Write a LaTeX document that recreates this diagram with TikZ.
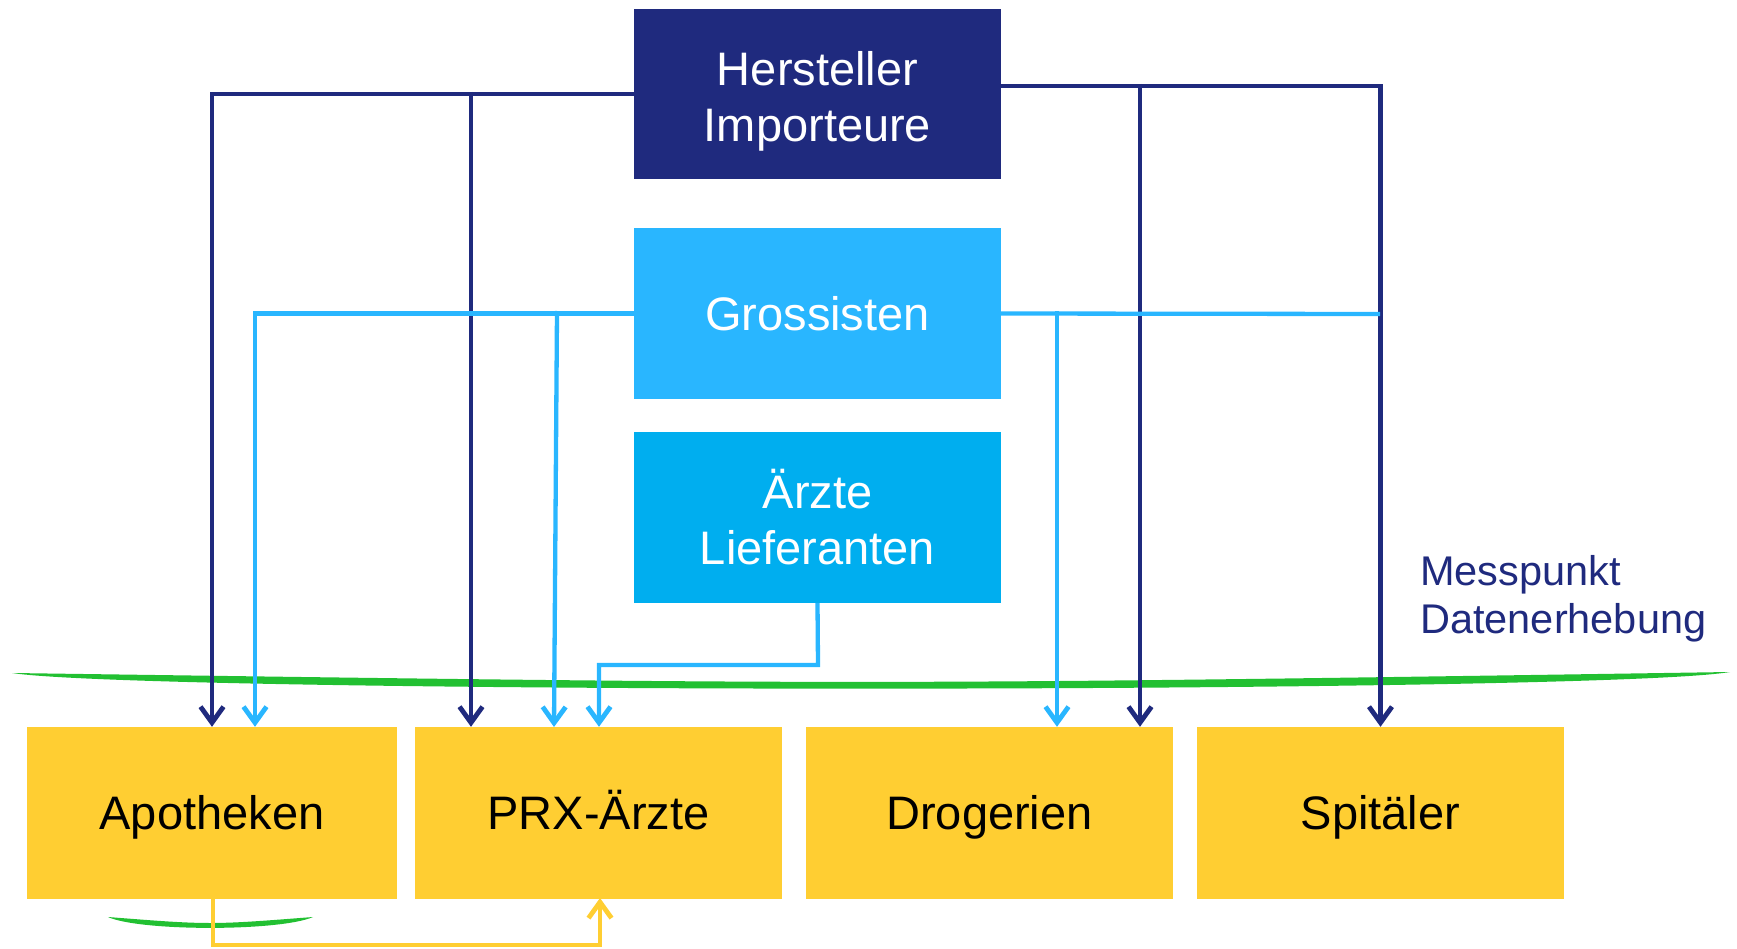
\documentclass[tikz,border=0pt]{standalone}
\usepackage{fontspec}
\setmainfont{Liberation Sans}
\usetikzlibrary{arrows.meta,calc}
\definecolor{navy}{HTML}{1F2A7E}
\definecolor{grosblue}{HTML}{29B6FF}
\definecolor{aerzteblue}{HTML}{00AEEF}
\definecolor{lightline}{HTML}{29B6FF}
\definecolor{boxyellow}{HTML}{FFCE32}
\definecolor{mgreen}{HTML}{22C032}
\begin{document}
\begin{tikzpicture}[x=1pt,y=-1pt,
  topbox/.style={minimum width=367pt, minimum height=171pt, inner sep=0pt, text=white, align=center, font=\fontsize{47}{56}\selectfont},
  ybox/.style={fill=boxyellow, minimum height=172pt, inner sep=0pt, text=black, text height=36pt, text depth=4pt, font=\fontsize{47}{56}\selectfont},
  tip/.style={-{Straight Barb[length=16pt,width=23pt,line width=4.8pt]}},
  dk/.style={draw=navy, line width=4.3pt},
  lt/.style={draw=lightline, line width=4.3pt},
  yl/.style={draw=boxyellow, line width=3.5pt},
  lbl/.style={text=navy, inner sep=0pt, anchor=base west, font=\fontsize{41.5}{48}\selectfont}
]
\useasboundingbox (0,0) rectangle (1737,949);

% top boxes
\node[topbox, fill=navy, minimum height=170pt] (hers) at (817.5,94) {};
\node[topbox] (herstext) at (817.5,101) {Hersteller\\Importeure};
\node[topbox, fill=grosblue] (gros) at (817.5,313.5) {Grossisten};
\node[topbox, fill=aerzteblue] (aerzte) at (817.5,517.5) {Ärzte\\Lieferanten};

% bottom boxes
\node[ybox, minimum width=370pt] (apo) at (212,813) {Apotheken};
\node[ybox, minimum width=367pt] (prx) at (598.5,813) {PRX-Ärzte};
\node[ybox, minimum width=367pt] (drog) at (989.5,813) {Drogerien};
\node[ybox, minimum width=367pt] (spit) at (1380.5,813) {Spitäler};

% green measuring line
\fill[mgreen] (12,673) .. controls (870,685) .. (1730,672)
  .. controls (1600,694) and (150,694) .. (12,673) -- cycle;
\fill[mgreen] (108,917) .. controls (210,925) .. (313,917)
  .. controls (280,931.5) and (140,931.5) .. (108,917) -- cycle;

% label
\node[lbl] (mess1) at (1420,585) {Messpunkt};
\node[lbl] (mess2) at (1420,633) {Datenerhebung};

% coordinates for junctions
\coordinate (hl) at (hers.west);
\coordinate (hr) at ($(hers.east)+(0,-8)$);
\coordinate (jprx) at (471,92);
\coordinate (jdrog) at (1140,84);
\coordinate (gl) at (gros.west);
\coordinate (gr) at (gros.east);
\coordinate (gend) at (1380,314);
\coordinate (jgprx) at (557,311);
\coordinate (jgdrog) at (1057,311);
\coordinate (ga) at (255,314);
\coordinate (ae1) at (818,665);
\coordinate (ae2) at (599,665);
\coordinate (yb1) at (213,945);
\coordinate (yb2) at (600,945);

% Hersteller connectors
\draw[dk, tip] (hl) -| (apo.north);
\draw[dk, tip] (jprx) -- (jprx |- prx.north);
\draw[dk, tip] (hr) -| (spit.north);
\draw[dk, tip] (jdrog) -- (jdrog |- drog.north);

% Grossisten connectors
\draw[lt, tip] (gl) -| (ga |- apo.north);
\draw[lt, tip] (jgprx) -- (554,727);
\draw[lt] (gr) -- (gend);
\draw[lt, tip] (jgdrog) -- (jgdrog |- drog.north);

% Aerzte connector
\draw[lt, tip] (aerzte.south) -- (ae1) -- (ae2) -- (ae2 |- prx.north);

% yellow connector
\draw[yl, tip] (apo.south -| yb1) -- (yb1) -- (yb2) -- (600,898);
\end{tikzpicture}
\end{document}
